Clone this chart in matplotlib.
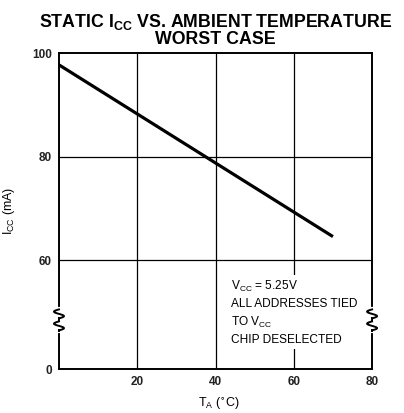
import numpy as np
import matplotlib
matplotlib.use("Agg")
import matplotlib.pyplot as plt

plt.rcParams['font.family'] = ['Liberation Sans', 'DejaVu Sans']

# data
temp_c = [0, 70]
icc_ma = [97.8, 64.6]

x_ticks = [20, 40, 60, 80]
x_labels = ['20', '40', '60', '80']
# the y axis is broken between 0 and 60; "0" sits at display value 39
y_zero_pos = 39
y_ticks = [y_zero_pos, 60, 80, 100]
y_labels = ['0', '60', '80', '100']

fig = plt.figure(figsize=(4.04, 4.13), dpi=100)
ax = fig.add_axes([0.146, 0.1065, 0.775, 0.764])
ax.set_xlim(0, 80)
ax.set_ylim(y_zero_pos, 100)

# grid
for xv in [20, 40, 60]:
    ax.axvline(xv, color='black', lw=0.9, zorder=1)
for yv in [60, 80]:
    ax.axhline(yv, color='black', lw=0.9, zorder=1)

ax.plot(temp_c, icc_ma, color='black', lw=2.3, solid_capstyle='butt', zorder=3)

ax.set_xticks(x_ticks)
ax.set_xticklabels(x_labels)
ax.set_yticks(y_ticks)
ax.set_yticklabels(y_labels)
ax.tick_params(length=0, labelsize=8.5, pad=5)
for lab in ax.get_xticklabels() + ax.get_yticklabels():
    lab.set_fontweight('bold')
    lab.set_color('#222222')

for s in ax.spines.values():
    s.set_linewidth(1.4)

# axis break on left and right spines
px_x = 80 / (0.775 * 404)
px_y = 61 / (0.764 * 413)
gap_top = 60 - 49 * px_y
gap_bot = 60 - 71 * px_y
seg = 9 * px_y
for xs in [0, 80]:
    ax.plot([xs, xs], [gap_bot, gap_top], color='white', lw=3, clip_on=False, zorder=4)
    t = np.linspace(0, 1, 40)
    for y0 in [gap_top, gap_top - seg - 3 * px_y]:
        ax.plot(xs - 5 * px_x * np.sin(2 * np.pi * t), y0 - seg * t, color='black', lw=1.4,
                clip_on=False, zorder=5)
    ax.plot([xs, xs], [gap_top - seg, gap_top - seg - 3 * px_y], color='black', lw=1.4,
            clip_on=False, zorder=5)
    ax.plot([xs, xs], [gap_top - 2 * seg - 3 * px_y, gap_bot], color='black', lw=1.4,
            clip_on=False, zorder=5)

# annotation box
note = ax.text(44.0, 56.4, 'V$_{\\mathregular{CC}}$ = 5.25V\nALL ADDRESSES TIED\nTO V$_{\\mathregular{CC}}$\nCHIP DESELECTED',
               fontsize=8.6, va='top', ha='left', linespacing=1.45, zorder=4,
               bbox=dict(facecolor='white', edgecolor='none', pad=2))

fig.text(0.533, 0.972, 'STATIC I$_{\\mathregular{CC}}$ VS. AMBIENT TEMPERATURE\nWORST CASE',
         ha='center', va='top', fontsize=12.8, fontweight='bold', linespacing=0.95)

ax.set_ylabel('I$_{\\mathregular{CC}}$ (mA)', fontsize=9)
ax.yaxis.set_label_coords(-0.135, 0.5)
ax.set_xlabel('T$_{\\mathregular{A}}$ ($^{\\circ}$C)', fontsize=9)
ax.xaxis.set_label_coords(0.51, -0.085)

fig.savefig('out.png', dpi=100)
